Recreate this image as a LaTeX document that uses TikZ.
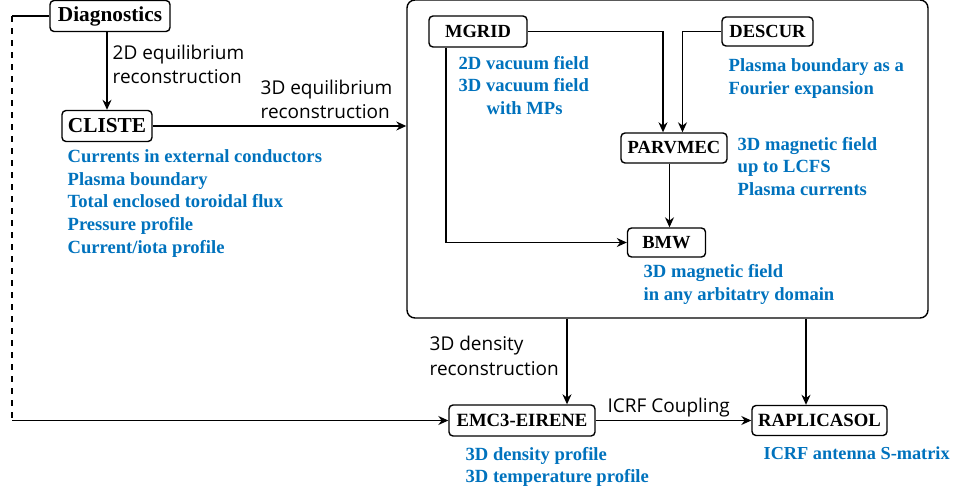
\documentclass[tikz,border=0pt]{standalone}
\usepackage{fontspec}
\setmainfont{Liberation Serif}
\newfontfamily\lblfont{Open Sans}
\usetikzlibrary{arrows.meta,positioning,calc}
\definecolor{noteblue}{RGB}{0,114,189}
\begin{document}
\begin{tikzpicture}[x=1pt,y=-1pt,>={Stealth[length=10pt,width=9pt]},line width=1.3pt,
 prog/.style={draw,rounded corners=4pt,line width=1.4pt,minimum height=31pt,inner sep=0pt,font=\fontsize{18.5}{20}\selectfont\bfseries},
 bigprog/.style={prog,font=\fontsize{21.3}{24}\selectfont\bfseries},
 lowprog/.style={prog,font=\fontsize{18.7}{22}\selectfont\bfseries},
 note/.style={anchor=base west,align=left,inner sep=0pt,text=noteblue,font=\fontsize{18.6}{22.7}\selectfont\bfseries},
 lbl/.style={anchor=base west,align=left,inner sep=0pt,font=\lblfont\fontsize{19}{24.5}\selectfont}]
\useasboundingbox (0,0) rectangle (956,490);
% programs
\node[bigprog,minimum width=120pt] (diag) at (110,16) {Diagnostics};
\node[bigprog,minimum width=90pt] (cliste) at (107,126) {CLISTE};
\node[draw,rounded corners=8pt,line width=1.4pt,minimum width=521pt,minimum height=318pt] (field) at (667.5,159) {};
\node[prog,minimum width=98pt] (mgrid) at (478,31.5) {MGRID};
\node[prog,minimum width=91pt,minimum height=29pt] (descur) at (767.5,31.5) {DESCUR};
\node[prog,minimum width=106pt,minimum height=30pt] (parvmec) at (674,148) {PARVMEC};
\node[prog,minimum width=78pt,minimum height=29pt] (bmw) at (666.5,242.5) {BMW};
\node[lowprog,minimum width=146pt] (emc) at (522,420.5) {EMC3-EIRENE};
\node[lowprog,minimum width=135pt,minimum height=30pt] (rapl) at (819.5,420.5) {RAPLICASOL};
% outputs (base = last line)
\node[note] (clistenote) at (67,253.1) {Currents in external conductors\\Plasma boundary\\Total enclosed toroidal flux\\Pressure profile\\Current/iota profile};
\node[note] (mgridnote) at (458,114.4) {2D vacuum field\\3D vacuum field\\\hspace*{28pt}with MPs};
\node[note] (descurnote) at (728,94.4) {Plasma boundary as a\\Fourier expansion};
\node[note] (parvmecnote) at (737,195.4) {3D magnetic field\\up to LCFS\\Plasma currents};
\node[note] (bmwnote) at (643,300) {3D magnetic field\\in any arbitatry domain};
\node[note] (emcnote) at (465,482.7) {3D density profile\\3D temperature profile};
\node[note,font=\fontsize{18.3}{22.7}\selectfont\bfseries] (raplnote) at (763,459) {ICRF antenna S-matrix};
% connector labels
\node[lbl] (lbltwo) at (112,83.5) {2D equilibrium\\reconstruction};
\node[lbl] (lblthree) at (260,118.5) {3D equilibrium\\reconstruction};
\node[lbl] (lbldens) at (429,375) {3D density\\reconstruction};
\node[lbl] (lblicrf) at (607,412) {ICRF Coupling};
% connectors
\coordinate (dtop) at (12,16);
\coordinate (dbot) at (dtop |- emc.west);
\draw (diag.west) -- (dtop);
\draw[dashed,dash pattern=on 6pt off 6pt] (dtop) -- (dbot);
\draw[->] (dbot) -- (emc.west);
\draw[->] (cliste.north |- diag.south) -- (cliste.north);
\draw[->] (cliste.east) -- (cliste.east -| field.west);
\draw[->] (mgrid.east) -| ([xshift=-11pt]parvmec.north);
\draw[->] (descur.west) -| ([xshift=8.5pt]parvmec.north);
\draw[->] ([xshift=-4.5pt]parvmec.south) -- ([xshift=-4.5pt]parvmec.south |- bmw.north);
\draw[->] ([xshift=-32pt]mgrid.south) |- (bmw.west);
\draw[->] ([xshift=45pt]emc.north |- field.south) -- ([xshift=45pt]emc.north);
\draw[->] ([xshift=-13.5pt]rapl.north |- field.south) -- ([xshift=-13.5pt]rapl.north);
\draw[->] (emc.east) -- (rapl.west);
\end{tikzpicture}
\end{document}
